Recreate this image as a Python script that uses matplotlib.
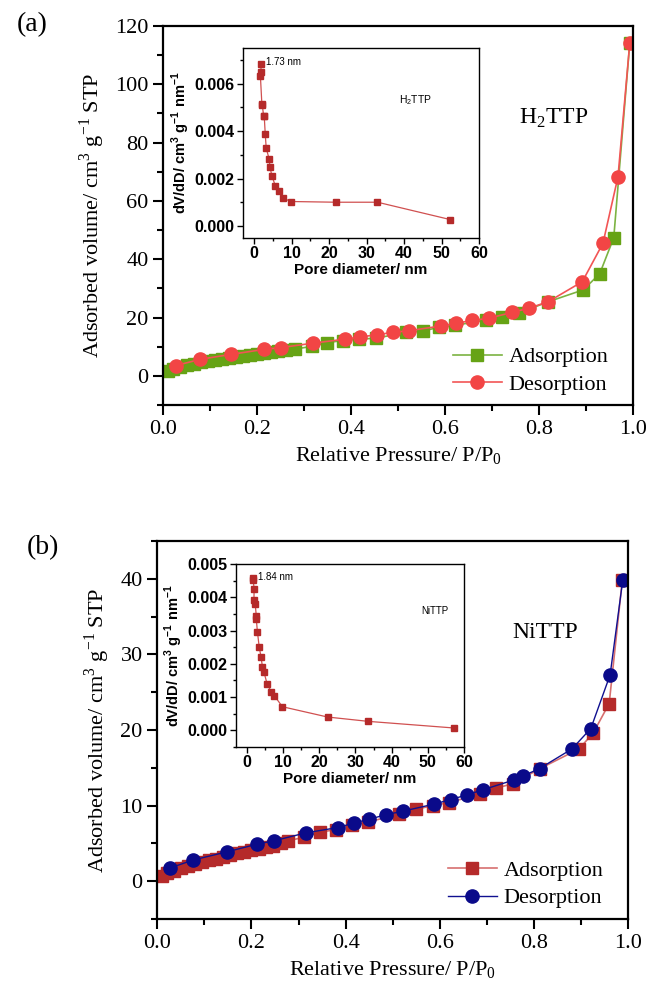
import numpy as np
import matplotlib.pyplot as plt
from matplotlib.ticker import MultipleLocator, FormatStrFormatter

# --- H2TTP isotherm (panel a) ---
h2_ads_p = [0.010, 0.020, 0.035, 0.050, 0.065, 0.080, 0.095, 0.110, 0.125, 0.140,
            0.155, 0.170, 0.185, 0.200, 0.215, 0.230, 0.245, 0.262, 0.280,
            0.316, 0.348, 0.382, 0.416, 0.452, 0.516, 0.552, 0.586, 0.620,
            0.688, 0.722, 0.757, 0.819, 0.894, 0.929, 0.959, 0.993]
h2_ads_v = [1.7, 2.4, 3.0, 3.6, 4.1, 4.6, 5.0, 5.4, 5.8, 6.2,
            6.5, 6.9, 7.2, 7.5, 7.8, 8.1, 8.4, 8.8, 9.2,
            10.1, 11.4, 12.1, 12.6, 12.9, 14.9, 15.4, 16.6, 17.3,
            19.2, 20.3, 21.5, 25.4, 29.5, 35.0, 47.4, 114.0]
h2_des_p = [0.026, 0.079, 0.145, 0.215, 0.250, 0.318, 0.387, 0.418, 0.454, 0.488,
            0.523, 0.591, 0.624, 0.658, 0.694, 0.743, 0.778, 0.819, 0.892, 0.936,
            0.968, 0.993]
h2_des_v = [3.5, 5.7, 7.4, 9.1, 9.7, 11.2, 12.6, 13.3, 14.1, 14.9,
            15.5, 17.1, 18.1, 19.0, 19.8, 21.8, 23.2, 25.4, 32.3, 45.5,
            68.3, 114.0]

# --- H2TTP pore size distribution (inset a) ---
h2_psd_d = [1.73, 1.87, 1.65, 2.05, 2.1, 2.5, 2.67, 2.94, 3.2, 4.0,
            4.2, 4.7, 5.6, 6.6, 7.75, 9.8, 21.8, 32.9, 52.3]
h2_psd_v = [0.00681, 0.00649, 0.00631, 0.00510, 0.00516, 0.00465, 0.00463, 0.00387, 0.00328, 0.00282,
            0.00249, 0.00213, 0.00171, 0.00147, 0.00118, 0.00104, 0.00101, 0.00101, 0.00028]

# --- NiTTP isotherm (panel b) ---
ni_ads_p = [0.009, 0.020, 0.035, 0.050, 0.065, 0.080, 0.095, 0.110, 0.125, 0.140,
            0.155, 0.170, 0.185, 0.200, 0.215, 0.230, 0.245, 0.262, 0.278,
            0.311, 0.345, 0.379, 0.413, 0.447, 0.514, 0.549, 0.585, 0.619,
            0.685, 0.720, 0.755, 0.813, 0.896, 0.926, 0.960, 0.988]
ni_ads_v = [0.7, 1.1, 1.4, 1.7, 2.0, 2.3, 2.55, 2.8, 3.0, 3.25,
            3.45, 3.7, 3.9, 4.1, 4.3, 4.5, 4.7, 5.0, 5.35,
            5.8, 6.5, 6.8, 7.5, 7.8, 8.9, 9.5, 10.0, 10.4,
            11.5, 12.3, 12.9, 14.9, 17.5, 19.6, 23.5, 39.9]
ni_des_p = [0.027, 0.076, 0.149, 0.212, 0.248, 0.316, 0.384, 0.418, 0.450, 0.486,
            0.521, 0.588, 0.623, 0.657, 0.692, 0.758, 0.776, 0.812, 0.881, 0.921,
            0.962, 0.989]
ni_des_v = [1.75, 2.8, 3.9, 4.9, 5.35, 6.4, 7.1, 7.7, 8.2, 8.8,
            9.25, 10.2, 10.8, 11.4, 12.1, 13.4, 13.9, 14.9, 17.5, 20.2,
            27.3, 39.9]

# --- NiTTP pore size distribution (inset b) ---
ni_psd_d = [1.76, 1.67, 2.0, 1.95, 2.3, 2.6, 2.6, 2.9, 3.4, 3.9,
            4.3, 4.7, 5.6, 6.8, 7.6, 9.8, 22.3, 33.5, 57.3]
ni_psd_v = [0.00452, 0.00457, 0.00426, 0.00391, 0.00379, 0.00344, 0.00335, 0.00297, 0.00251, 0.00221,
            0.00191, 0.00176, 0.00139, 0.00115, 0.00104, 0.00071, 0.00040, 0.00027, 0.00007]

SERIF = 'Liberation Serif'
SANS = 'Liberation Sans'

plt.rcParams['mathtext.fontset'] = 'custom'
plt.rcParams['mathtext.rm'] = SERIF
plt.rcParams['mathtext.sf'] = 'Liberation Sans:bold'


def style_main(ax, ylim, ymajor):
    ax.set_xlim(0, 1.0)
    ax.set_ylim(*ylim)
    ax.xaxis.set_major_locator(MultipleLocator(0.2))
    ax.xaxis.set_minor_locator(MultipleLocator(0.1))
    ax.xaxis.set_major_formatter(FormatStrFormatter('%.1f'))
    ax.yaxis.set_major_locator(MultipleLocator(ymajor))
    ax.yaxis.set_minor_locator(MultipleLocator(ymajor / 2))
    ax.tick_params(which='both', direction='out', width=1.5, top=False, right=False)
    ax.tick_params(which='major', length=7, labelsize=16, labelfontfamily=SERIF)
    ax.tick_params(which='minor', length=4)
    for s in ax.spines.values():
        s.set_linewidth(1.6)
    ax.set_xlabel('Relative Pressure/ P/P$_0$', fontsize=16, family=SERIF, labelpad=5)
    ax.set_ylabel('Adsorbed volume/ cm$^3$ g$^{-1}$ STP', fontsize=16, family=SERIF, labelpad=6)
    ax.legend(loc='lower right', frameon=False, prop={'family': SERIF, 'size': 16},
              handlelength=2.2, handletextpad=0.3, labelspacing=0.3,
              bbox_to_anchor=(0.99, -0.025))


def style_inset(ax, ylim, ymajor, yminor):
    ax.set_xlim(-3, 60)
    ax.set_ylim(*ylim)
    ax.xaxis.set_major_locator(MultipleLocator(10))
    ax.xaxis.set_minor_locator(MultipleLocator(5))
    ax.yaxis.set_major_locator(MultipleLocator(ymajor))
    ax.yaxis.set_minor_locator(MultipleLocator(yminor))
    ax.yaxis.set_major_formatter(FormatStrFormatter('%.3f'))
    ax.tick_params(which='both', direction='out', width=1.0, top=False, right=False)
    ax.tick_params(which='major', length=4, labelsize=11.5, pad=2, labelfontfamily=SANS)
    ax.tick_params(which='minor', length=2)
    for lab in ax.get_xticklabels() + ax.get_yticklabels():
        lab.set_fontweight('bold')
    for s in ax.spines.values():
        s.set_linewidth(1.0)
    ax.set_xlabel('Pore diameter/ nm', fontsize=11, family=SANS, weight='bold', labelpad=1)
    ax.set_ylabel(r'dV/dD/ cm$^\mathsf{3}$ g$^\mathsf{-1}$ nm$^\mathsf{-1}$', fontsize=10.5,
                  family=SANS, weight='bold', labelpad=2)


fig = plt.figure(figsize=(6.52, 9.92), dpi=100)

# ---------------- panel (a) ----------------
ax1 = fig.add_axes([0.2505, 0.5917, 0.7204, 0.3821])
ax1.plot(h2_ads_p, h2_ads_v, color='#7cb342', lw=1.2, marker='s', ms=9,
         mfc='#66a315', mec='#66a315', label='Adsorption')
ax1.plot(h2_des_p, h2_des_v, color='#f25555', lw=1.2, marker='o', ms=9.5,
         mfc='#f24545', mec='#f24545', label='Desorption')
style_main(ax1, (-10, 120), 20)
ax1.text(0.832, 0.757, 'H$_2$TTP', transform=ax1.transAxes, fontsize=17,
         family=SERIF, ha='center', va='center')
fig.text(0.05, 0.975, '(a)', fontsize=20, family=SERIF, ha='center', va='center')

in1 = fig.add_axes([0.3727, 0.760, 0.362, 0.1915])
in1.plot(h2_psd_d, h2_psd_v, color='#d05050', lw=0.9, marker='s', ms=4,
         mfc='#b52a2a', mec='#b52a2a')
style_inset(in1, (-0.0005, 0.0075), 0.002, 0.001)
in1.text(3.2, 0.0069, '1.73 nm', fontsize=7, family=SANS, va='center')
in1.text(43, 0.0053, r'H$_\mathregular{2}$TTP', fontsize=7.5, family=SANS, ha='center',
         va='center', math_fontfamily='dejavusans')

# ---------------- panel (b) ----------------
ax2 = fig.add_axes([0.2413, 0.0736, 0.7219, 0.381])
ax2.plot(ni_ads_p, ni_ads_v, color='#d77070', lw=1.2, marker='s', ms=9,
         mfc='#b52a2a', mec='#b52a2a', label='Adsorption')
ax2.plot(ni_des_p, ni_des_v, color='#101090', lw=1.0, marker='o', ms=9.5,
         mfc='#0a0a8a', mec='#0a0a8a', label='Desorption')
style_main(ax2, (-5, 45), 10)
ax2.text(0.824, 0.757, 'NiTTP', transform=ax2.transAxes, fontsize=17,
         family=SERIF, ha='center', va='center')
fig.text(0.066, 0.4476, '(b)', fontsize=20, family=SERIF, ha='center', va='center')

in2 = fig.add_axes([0.362, 0.247, 0.3497, 0.1845])
in2.plot(ni_psd_d, ni_psd_v, color='#d05050', lw=0.9, marker='s', ms=4,
         mfc='#b52a2a', mec='#b52a2a')
style_inset(in2, (-0.0005, 0.005), 0.001, 0.0005)
in2.text(3.2, 0.0046, '1.84 nm', fontsize=7, family=SANS, va='center')
in2.text(52, 0.0036, 'NiTTP', fontsize=7, family=SANS, ha='center', va='center')

fig.savefig('out.png', dpi=100)
